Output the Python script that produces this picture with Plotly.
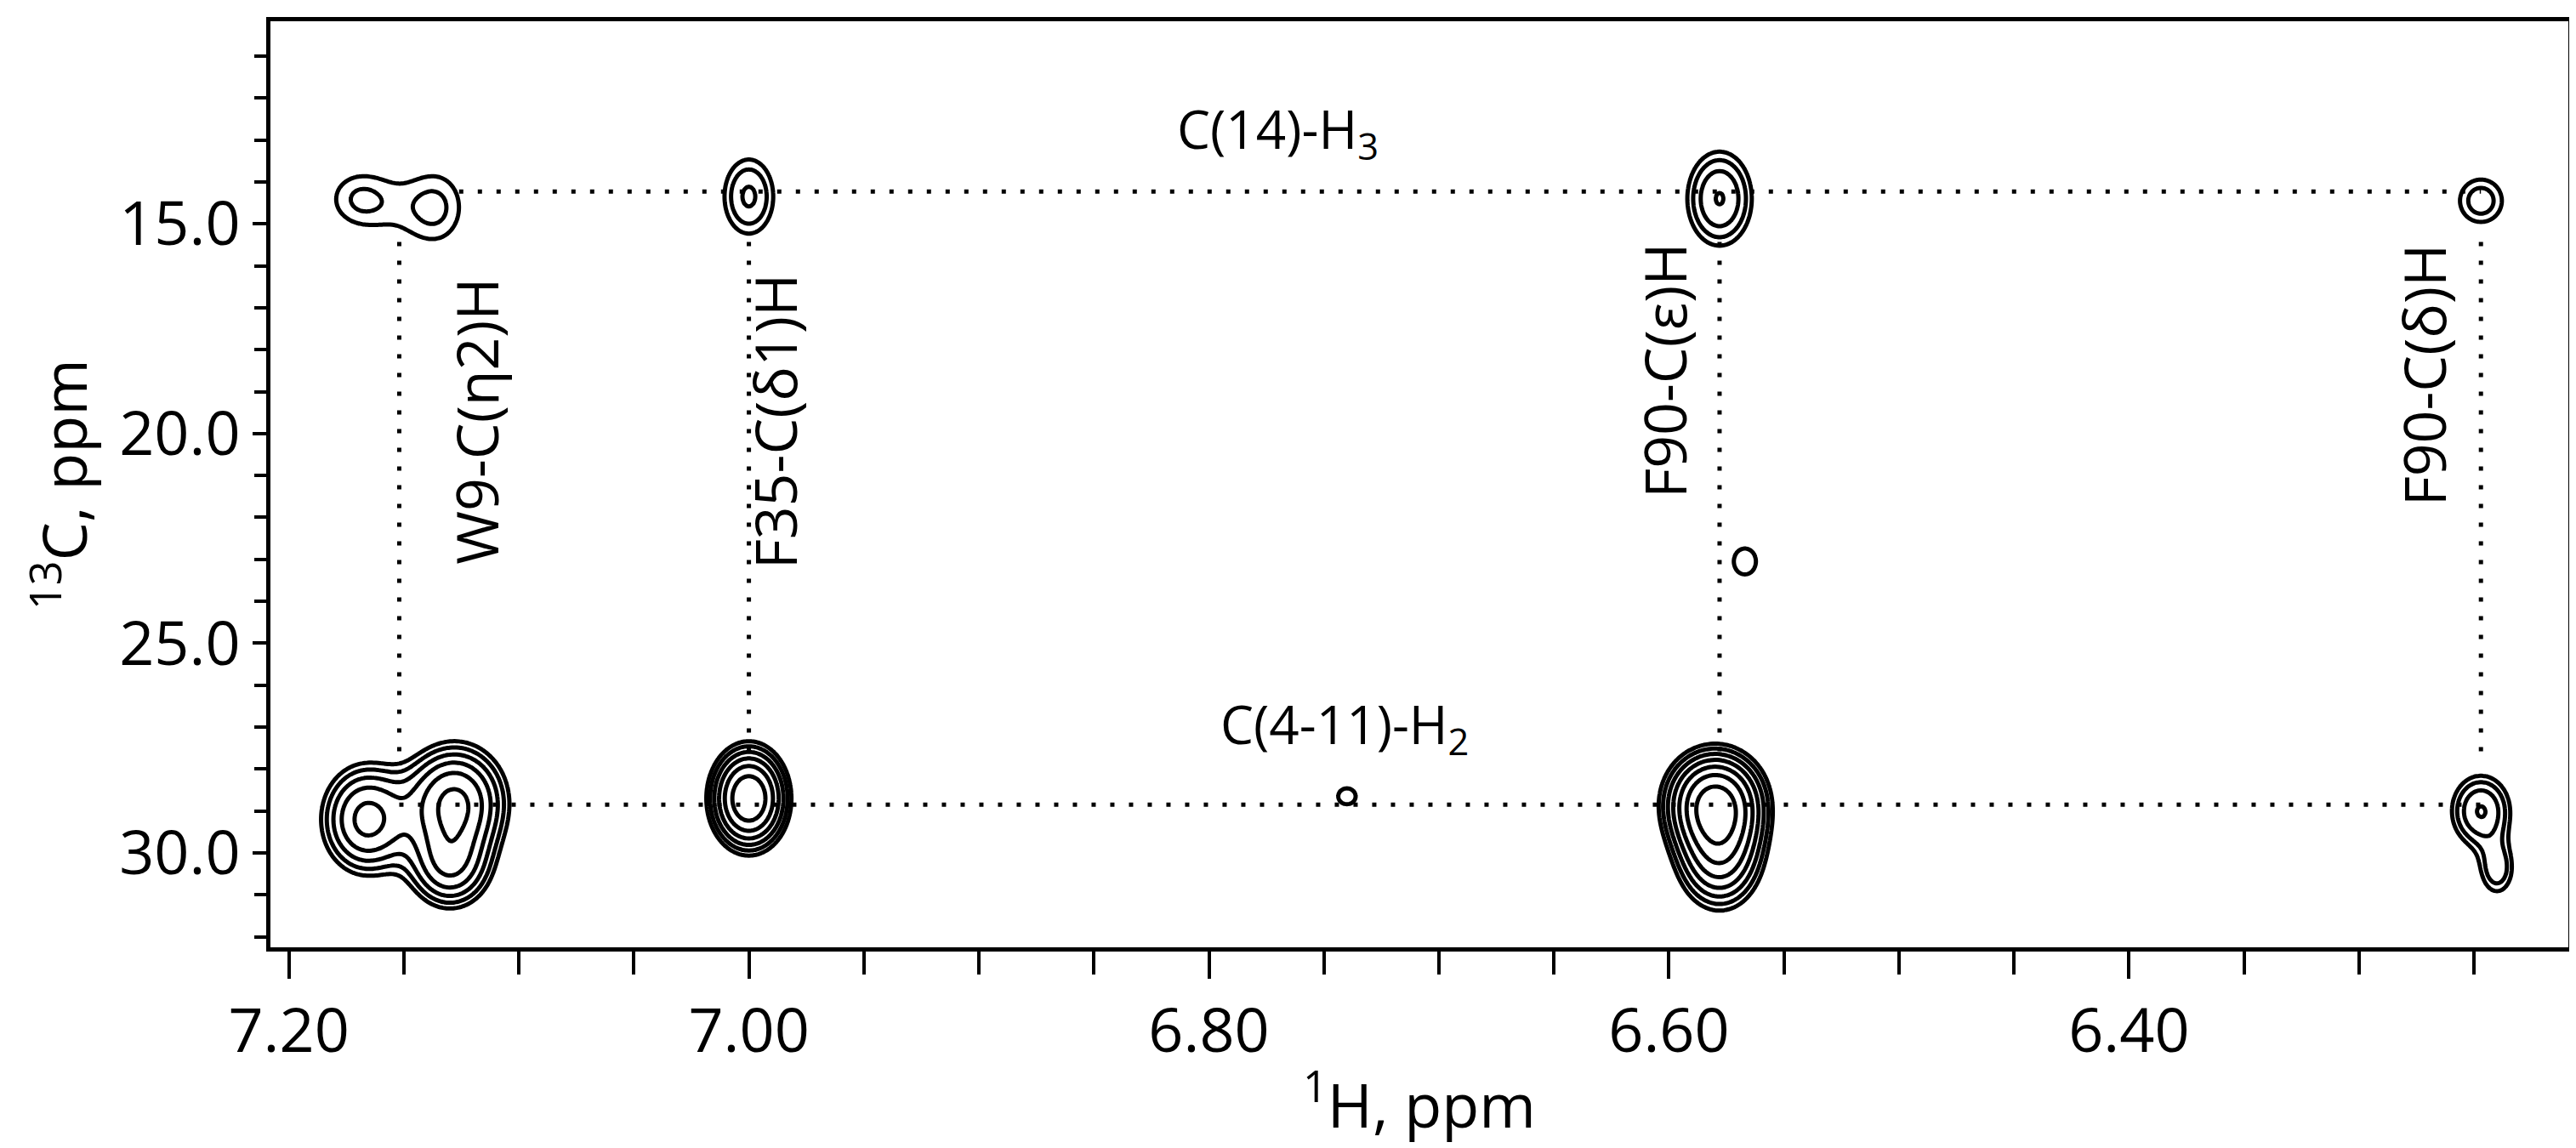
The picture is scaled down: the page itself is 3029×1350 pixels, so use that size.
import numpy as np
import plotly.graph_objects as go

#peak list: 1H shift, 13C shift, widths and heights
peak_h = [7.170, 7.135, 7.152, 7.000, 6.578, 6.247,
          7.128, 7.166, 7.130, 7.000, 6.740, 6.580, 6.578, 6.567, 6.247, 6.240]
peak_c = [14.40, 14.60, 14.70, 14.35, 14.40, 14.45,
          28.80, 29.20, 30.30, 28.70, 28.65, 28.80, 30.00, 23.05, 29.00, 30.40]
peak_wh = [0.012, 0.011, 0.014, 0.009, 0.010, 0.009,
           0.013, 0.012, 0.011, 0.0095, 0.005, 0.012, 0.011, 0.007, 0.009, 0.006]
peak_wc = [0.60, 0.80, 0.80, 0.75, 0.80, 0.50,
           0.80, 0.80, 0.65, 0.70, 0.25, 0.70, 0.80, 0.45, 0.60, 0.50]
peak_amp = [0.38, 0.38, 0.15, 0.60, 0.80, 0.50,
            1.60, 1.20, 1.00, 2.00, 0.40, 2.20, 1.30, 0.38, 0.80, 0.50]

#assignment lines
col_h = [7.152, 7.000, 6.578, 6.247]
row_c = [14.23, 28.85]
col_labels = ["W9-C(η2)H", "F35-C(δ1)H", "F90-C(ε)H", "F90-C(δ)H"]
label_h = [7.119, 6.989, 6.602, 6.272]
label_c = [19.7, 19.7, 18.5, 18.6]

x_range = [7.208, 6.209]
y_range = [32.25, 10.17]

#build spectrum on a grid
xs = np.linspace(x_range[1], x_range[0], 1000)
ys = np.linspace(y_range[1], y_range[0], 800)
X, Y = np.meshgrid(xs, ys)
Z = np.zeros_like(X)
for h, c, wh, wc, a in zip(peak_h, peak_c, peak_wh, peak_wc, peak_amp):
    Z += a * np.exp(-((X - h) / wh) ** 2 / 2 - ((Y - c) / wc) ** 2 / 2)
Z = np.log10(Z + 1e-6)

fig = go.Figure()

#dotted connectors
dot = dict(color="black", width=5, dash="5px,17px")
fig.add_trace(go.Scatter(x=[7.126, col_h[3]], y=[row_c[0]] * 2, mode="lines",
                         line=dot, showlegend=False, hoverinfo="skip"))
fig.add_trace(go.Scatter(x=[col_h[0], col_h[3]], y=[row_c[1]] * 2, mode="lines",
                         line=dot, showlegend=False, hoverinfo="skip"))
for h in col_h:
    fig.add_trace(go.Scatter(x=[h, h], y=[row_c[0] + 1.2, row_c[1] - 1.0], mode="lines",
                             line=dot, showlegend=False, hoverinfo="skip"))

fig.add_trace(go.Contour(
    x=xs, y=ys, z=Z,
    contours=dict(coloring="lines", start=np.log10(0.3), end=np.log10(5), size=np.log10(1.38)),
    colorscale=[[0, "black"], [1, "black"]], line=dict(width=5),
    showscale=False, hoverinfo="skip"))

for txt, h, c in zip(col_labels, label_h, label_c):
    fig.add_annotation(x=h, y=c, text=txt, textangle=-90, showarrow=False,
                       font=dict(size=68, color="black"))
fig.add_annotation(x=6.770, y=12.8, text="C(14)-H<sub>3</sub>", showarrow=False,
                   font=dict(size=62, color="black"))
fig.add_annotation(x=6.741, y=27.0, text="C(4-11)-H<sub>2</sub>", showarrow=False,
                   font=dict(size=62, color="black"))

fig.update_xaxes(range=x_range, tickvals=[7.2, 7.0, 6.8, 6.6, 6.4],
                 ticktext=["7.20", "7.00", "6.80", "6.60", "6.40"],
                 ticks="outside", ticklen=32, tickwidth=4, tickcolor="black",
                 minor=dict(dtick=0.05, tick0=7.2, ticks="outside", ticklen=27, tickwidth=4, tickcolor="black"),
                 showline=True, linewidth=5, linecolor="black", mirror=True,
                 showgrid=False, zeroline=False,
                 title=dict(text="<sup>1</sup>H, ppm", font=dict(size=72), standoff=20),
                 tickfont=dict(size=72))
fig.update_yaxes(range=y_range, tickvals=[15, 20, 25, 30],
                 ticktext=["15.0", "20.0", "25.0", "30.0"],
                 ticks="outside", ticklen=16, tickwidth=4, tickcolor="black",
                 minor=dict(dtick=1, tick0=10, ticks="outside", ticklen=14, tickwidth=4, tickcolor="black"),
                 showline=True, linewidth=5, linecolor="black", mirror=True,
                 showgrid=False, zeroline=False,
                 title=dict(text="<sup>13</sup>C, ppm", font=dict(size=72), standoff=15),
                 tickfont=dict(size=72))
fig.update_layout(width=3029, height=1350, plot_bgcolor="white", paper_bgcolor="white",
                  margin=dict(l=310, r=14, t=16, b=244),
                  font=dict(family="Open Sans", color="black"))

fig.write_html("out.html")
